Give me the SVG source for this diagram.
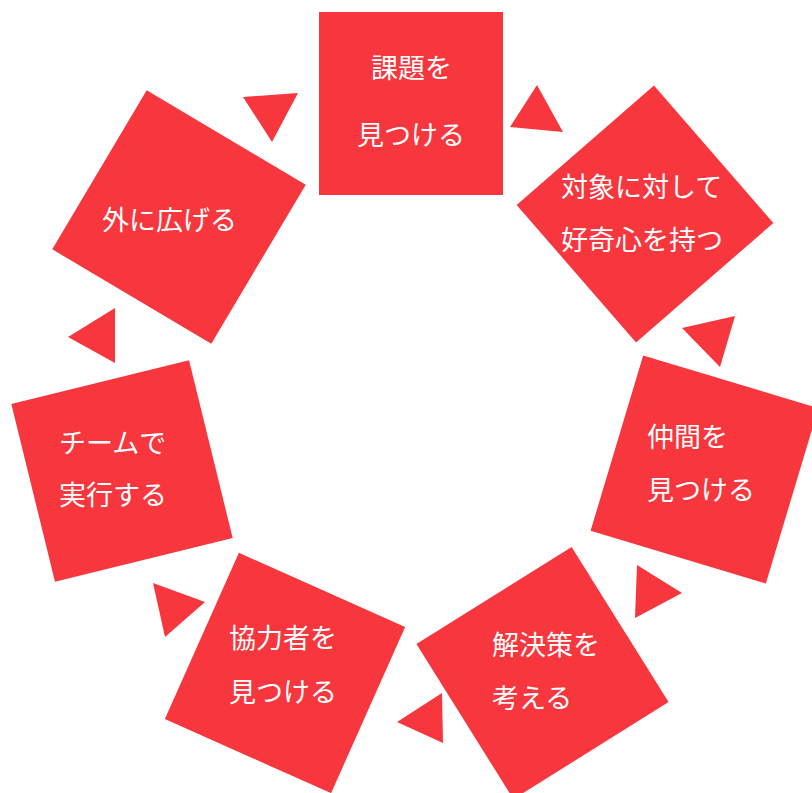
<svg xmlns="http://www.w3.org/2000/svg" width="812" height="793" viewBox="0 0 812 793">
<style>
.sq{fill:#f7363d}
.ar{fill:#f7363d}
.t{fill:#ffffff;font-family:"Noto Sans CJK JP","Noto Sans",sans-serif;font-size:27px}
</style>
<rect width="812" height="793" fill="#ffffff"/>
<g id="connectors">
<polygon class="ar" points="537,85 510,127 563,132"/>
<polygon class="ar" points="682,328 735,316 720,367"/>
<polygon class="ar" points="637,565 682,593 635,618"/>
<polygon class="ar" points="442,693 397,722 443,743"/>
<polygon class="ar" points="153,583 205,602 165,637"/>
<polygon class="ar" points="68,337 115,308 115,363"/>
<polygon class="ar" points="243,97 298,93 272,142"/>
</g>
<g id="n1">
<rect class="sq" x="319" y="12" width="184" height="183"/>
<text class="t" x="371" y="78">課題を<tspan x="357" y="145">見つける</tspan></text>
</g>
<g id="n2">
<rect class="sq" x="-91" y="-91" width="182" height="182" transform="translate(645,214) rotate(49)"/>
<text class="t" x="561" y="197">対象に対して<tspan x="561" y="250">好奇心を持つ</tspan></text>
</g>
<g id="n3">
<rect class="sq" x="-91.5" y="-91.5" width="183" height="183" transform="translate(704.5,469.5) rotate(16.7)"/>
<text class="t" x="647" y="447">仲間を<tspan x="647" y="500">見つける</tspan></text>
</g>
<g id="n4">
<rect class="sq" x="-91.5" y="-91.5" width="183" height="183" transform="translate(542.5,673) rotate(-32)"/>
<text class="t" x="492" y="655">解決策を<tspan x="492" y="708">考える</tspan></text>
</g>
<g id="n5">
<rect class="sq" x="-91" y="-91" width="182" height="182" transform="translate(285,673) rotate(24)"/>
<text class="t" x="229" y="648">協力者を<tspan x="229" y="702">見つける</tspan></text>
</g>
<g id="n6">
<rect class="sq" x="-91.5" y="-91.5" width="183" height="183" transform="translate(122,471) rotate(-13.8)"/>
<text class="t" x="59" y="453">チームで<tspan x="59" y="505">実行する</tspan></text>
</g>
<g id="n7">
<rect class="sq" x="-92.5" y="-92.5" width="185" height="185" transform="translate(179,217) rotate(30.7)"/>
<text class="t" x="102" y="230">外に広げる</text>
</g>
</svg>
